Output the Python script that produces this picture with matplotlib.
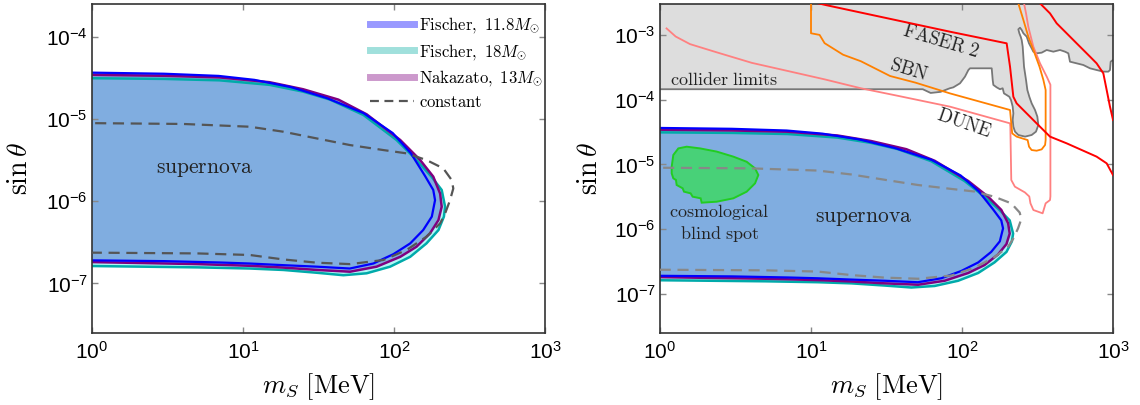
import matplotlib
matplotlib.use('Agg')
import matplotlib.pyplot as plt
from matplotlib.lines import Line2D
from matplotlib.ticker import LogLocator, NullLocator

plt.rcParams['font.family'] = ['Liberation Sans', 'DejaVu Sans']
plt.rcParams['mathtext.fontset'] = 'cm'

# ---------------- data (m_S [MeV], sin theta) ----------------
# Fischer 11.8 Msun supernova contour
f118_x = [0.8, 1, 3, 6.9, 11.9, 20.8, 36, 62.8, 98, 129, 161, 182, 187, 178, 156, 128, 99, 73, 51, 31, 18.5, 11, 7, 3,
          1, 0.8]
f118_y = [3.67e-5, 3.66e-5, 3.55e-5, 3.34e-5, 2.99e-5, 2.44e-5, 1.79e-5, 1.18e-5, 6.75e-6, 3.86e-6, 2.01e-6, 1.37e-6,
          1.03e-6, 6.5e-7, 4.46e-7, 3.07e-7, 2.27e-7, 1.75e-7, 1.52e-7, 1.6e-7, 1.67e-7, 1.75e-7, 1.8e-7, 1.87e-7,
          1.91e-7, 1.91e-7]
# Fischer 18 Msun
f18_x = [0.8, 1, 3, 7, 15, 25, 37.7, 62.7, 104, 141, 177, 207, 218, 214, 197, 164, 128, 94.2, 65.9, 46.2, 30.8, 18.5,
         11.1, 5, 1, 0.8]
f18_y = [3.13e-5, 3.13e-5, 3.07e-5, 2.95e-5, 2.6e-5, 2.15e-5, 1.72e-5, 1.12e-5, 5.55e-6, 3.17e-6, 1.99e-6, 1.37e-6,
         8.57e-7, 6.49e-7, 4.46e-7, 3.07e-7, 2.11e-7, 1.60e-7, 1.33e-7, 1.26e-7, 1.35e-7, 1.46e-7, 1.52e-7, 1.57e-7,
         1.63e-7, 1.63e-7]
# Nakazato 13 Msun
nak_x = [0.8, 1, 3, 7, 15, 25, 42.8, 65.9, 110, 149, 182, 202, 207, 197, 173, 141, 110, 76.7, 51.2, 30.8, 18.5, 11.1,
         5, 1, 0.8]
nak_y = [3.44e-5, 3.44e-5, 3.35e-5, 3.2e-5, 2.8e-5, 2.3e-5, 1.72e-5, 1.14e-5, 5.55e-6, 3.17e-6, 1.99e-6, 1.24e-6,
         8.57e-7, 5.90e-7, 4.06e-7, 2.80e-7, 2.11e-7, 1.60e-7, 1.39e-7, 1.46e-7, 1.56e-7, 1.64e-7, 1.72e-7, 1.82e-7,
         1.82e-7]
# constant (dashed)
const_x = [0.8, 1, 4, 11.1, 18.5, 30.8, 51, 85, 121, 164, 212, 241, 247, 235, 218, 202, 164, 121, 85, 51.2, 30.8,
           18.5, 11.1, 5, 1, 0.8]
const_y = [8.9e-6, 8.9e-6, 8.7e-6, 8.05e-6, 7.0e-6, 5.8e-6, 4.82e-6, 4.19e-6, 3.82e-6, 3.17e-6, 2.51e-6, 1.81e-6,
           1.43e-6, 1.03e-6, 7.1e-7, 5.38e-7, 3.7e-7, 2.55e-7, 1.93e-7, 1.72e-7, 1.79e-7, 1.96e-7, 2.22e-7, 2.32e-7,
           2.37e-7, 2.37e-7]

# collider limits (lower boundary of grey region)
coll_x = [0.8, 55, 62, 72, 83, 87.6, 97, 104.7, 110.2, 113, 157.3, 159.7, 161.3, 169.7, 178.5, 185.9, 189.7, 197.6,
          205.8, 211.1, 216.6, 218.8, 216.6, 218.8, 224.4, 236.1, 261.5, 289.3, 309, 320.3, 315.5, 304.4, 289.3,
          279.2, 270.9, 265.5, 257.5, 254.9, 252.3, 248.5, 244.7, 239.8, 236.1, 242.2, 248.5, 254.9, 268.2, 277.8,
          289.3, 296.8, 312.3, 337.1, 363.8, 402.7, 445.6, 481, 506.1, 519, 574.6, 636.2, 704.2, 779.4, 862.9,
          931.1, 955, 965, 1000, 1100]
coll_y = [1.45e-4, 1.45e-4, 1.27e-4, 1.32e-4, 1.50e-4, 1.55e-4, 1.79e-4, 2.27e-4, 2.87e-4, 3.05e-4, 3.05e-4, 2.01e-4,
          1.69e-4, 1.55e-4, 1.45e-4, 1.50e-4, 1.25e-4, 1.18e-4, 1.11e-4, 9.88e-5, 7.8e-5, 6.15e-5, 4.86e-5, 3.83e-5,
          3.21e-5, 2.85e-5, 2.69e-5, 2.85e-5, 3.21e-5, 4.06e-5, 5.47e-5, 6.93e-5, 8.78e-5, 1.11e-4, 1.41e-4,
          2.01e-4, 3.23e-4, 4.62e-4, 6.58e-4, 8.34e-4, 9.39e-4, 1.06e-3, 1.22e-3, 1.29e-3, 1.19e-3, 1.06e-3,
          9.39e-4, 7.41e-4, 6.21e-4, 5.51e-4, 5.2e-4, 5.32e-4, 5.85e-4, 5.51e-4, 5.85e-4, 5.51e-4, 5.2e-4, 3.86e-4,
          3.64e-4, 3.43e-4, 3.05e-4, 2.87e-4, 2.71e-4, 2.71e-4, 2.87e-4, 3.86e-4, 4.1e-4, 4.1e-4]
COLL_TOP = 1.0

# FASER 2 (red)
faser_x = [11, 12.7, 83.3, 197.6, 208, 218.8, 230, 268, 312, 382.6, 493, 779, 908, 1000]
faser_y = [3.1e-3, 2.87e-3, 1.12e-3, 7.41e-4, 3.23e-4, 1.11e-4, 8.78e-5, 6.15e-5, 4.31e-5, 2.69e-5, 2.12e-5, 1.32e-5,
           1.04e-5, 6.87e-6]
# second red curve (far right)
red2_x = [310, 328.6, 382.6, 423.6, 493, 574.6, 704, 779, 863, 908, 955, 995, 1000]
red2_y = [3.5e-3, 3.07e-3, 2.15e-3, 1.51e-3, 1.06e-3, 7.41e-4, 4.62e-4, 3.64e-4, 2.55e-4, 1.41e-4, 7.8e-5, 5.16e-5,
          4.86e-5]
# SBN (orange)
sbn_x = [10, 10, 11.4, 12.3, 16.3, 21.4, 33.4, 49.3, 83.3, 208, 215, 230, 272, 278, 289, 312, 337, 355, 358, 358, 346,
         326, 297, 275, 255, 236]
sbn_y = [4e-3, 1.06e-3, 1.0e-3, 7.46e-4, 4.95e-4, 3.92e-4, 2.32e-4, 1.83e-4, 1.25e-4, 6.93e-5, 3.02e-5, 2.69e-5,
         2.38e-5, 1.88e-5, 1.67e-5, 1.63e-5, 1.71e-5, 2.0e-5, 2.38e-5, 1.41e-4, 2.01e-4, 3.23e-4, 5.85e-4, 9.39e-4,
         1.7e-3, 3.07e-3]
# DUNE (pink)
dune_x = [1.105, 1.27, 1.58, 2.34, 4.06, 7.08, 12.3, 21.4, 37.4, 83.3, 208, 209, 212, 224, 261, 279, 284, 297, 342,
          358, 382.6, 385, 385, 364, 328.6, 296.8, 275, 265.5, 257.5]
dune_y = [1.26e-3, 9.44e-4, 7.21e-4, 5.44e-4, 3.70e-4, 2.76e-4, 2.06e-4, 1.50e-4, 1.15e-4, 7.8e-5, 4.31e-5, 3.83e-5,
          5.75e-6, 4.54e-6, 3.7e-6, 3.2e-6, 2.51e-6, 1.98e-6, 1.76e-6, 2.51e-6, 2.82e-6, 3.2e-6, 1.7e-4, 2.27e-4,
          3.64e-4, 6.58e-4, 1.33e-3, 2.15e-3, 3.07e-3]
# cosmological blind spot (green)
blind_x = [1.195, 1.225, 1.323, 1.502, 1.841, 2.373, 3.06, 3.75, 4.26, 4.48, 4.26, 3.75, 3.06, 2.373, 1.888, 1.859,
           1.645, 1.595, 1.442, 1.413, 1.289, 1.276, 1.225, 1.195]
blind_y = [9.24e-6, 1.40e-5, 1.77e-5, 1.88e-5, 1.77e-5, 1.58e-5, 1.32e-5, 1.10e-5, 8.71e-6, 6.87e-6, 5.11e-6,
           3.80e-6, 3.00e-6, 2.66e-6, 2.57e-6, 3.0e-6, 3.18e-6, 3.58e-6, 3.80e-6, 4.28e-6, 4.82e-6, 5.75e-6,
           6.11e-6, 7.29e-6]

legend_labels = [r'$\mathrm{Fischer,}\ 11.8M_{\odot}$', r'$\mathrm{Fischer,}\ 18M_{\odot}$',
                 r'$\mathrm{Nakazato,}\ 13M_{\odot}$', r'$\mathrm{constant}$']

# ---------------- figure ----------------
W, H = 1140, 405
fig = plt.figure(figsize=(W / 100, H / 100), dpi=100)
axL = fig.add_axes([92 / W, 72 / H, 453 / W, 329 / H])
axR = fig.add_axes([660 / W, 72 / H, 453 / W, 329 / H])

SN_FILL = '#80ade0'
CYAN_FILL = '#b0f6f6'


def style(ax, ylim):
    ax.set_xscale('log')
    ax.set_yscale('log')
    ax.set_xlim(1, 1000)
    ax.set_ylim(*ylim)
    ax.xaxis.set_major_locator(LogLocator(base=10, numticks=10))
    ax.yaxis.set_major_locator(LogLocator(base=10, numticks=10))
    ax.xaxis.set_minor_locator(NullLocator())
    ax.yaxis.set_minor_locator(NullLocator())
    ax.tick_params(which='major', direction='in', top=True, right=True, length=4, width=1,
                   color='#888888', labelsize=15)
    ax.tick_params(axis='x', pad=6)
    ax.tick_params(axis='y', pad=3)
    for s in ax.spines.values():
        s.set_color('#333333')
        s.set_linewidth(1.2)
    ax.set_xlabel(r'$m_S\ [\mathrm{MeV}]$', fontsize=19)
    ax.set_ylabel(r'$\sin\theta$', fontsize=20)


def supernova(ax, dash_color):
    ax.fill(f18_x, f18_y, color=CYAN_FILL, lw=0, zorder=1)
    ax.fill(nak_x, nak_y, color=SN_FILL, lw=0, zorder=1.1)
    ax.fill(f118_x, f118_y, color=SN_FILL, lw=0, zorder=1.2)
    ax.plot(f18_x, f18_y, color='#00aaaa', lw=1.8, zorder=2)
    ax.plot(nak_x, nak_y, color='#800080', lw=1.8, zorder=2.1)
    ax.plot(f118_x, f118_y, color='#0000ff', lw=1.6, zorder=2.2)
    ax.plot(const_x, const_y, color=dash_color, lw=1.6, ls=(0, (5, 3)), zorder=4)


style(axL, (2.5e-8, 2.5e-4))
style(axR, (2.5e-8, 3e-3))

supernova(axL, '#555555')
axL.text(5.6, 2.5e-6, r'$\mathrm{supernova}$', fontsize=15.5, ha='center', va='center', color='#222222')

handles = [Line2D([], [], color='#9999ff', lw=5), Line2D([], [], color='#a0e0dc', lw=5),
           Line2D([], [], color='#cc99cc', lw=5), Line2D([], [], color='#555555', lw=1.6, ls=(0, (4, 2.5)))]
axL.legend(handles, legend_labels, loc='upper left', bbox_to_anchor=(0.6, 0.985), frameon=False,
           fontsize=12, handlelength=2.6, handletextpad=0.33, labelspacing=0.4, borderaxespad=0)

# right panel
axR.fill(coll_x + [coll_x[-1], coll_x[0]], coll_y + [COLL_TOP, COLL_TOP], color='#dddddd', lw=0, zorder=0.5)
axR.plot(coll_x, coll_y, color='#777777', lw=1.3, zorder=0.6)
supernova(axR, '#888888')
axR.fill(blind_x, blind_y, facecolor='#48d178', edgecolor='#22cc22', lw=1.4, zorder=3)
axR.plot(dune_x, dune_y, color='#ff8080', lw=1.3, zorder=5)
axR.plot(sbn_x, sbn_y, color='#ff8000', lw=1.3, zorder=5)
axR.plot(faser_x, faser_y, color='#ff0000', lw=1.4, zorder=5)
axR.plot(red2_x, red2_y, color='#ff0000', lw=1.4, zorder=5)

axR.text(22.4, 1.51e-6, r'$\mathrm{supernova}$', fontsize=15.5, ha='center', va='center', color='#222222')
axR.text(2.47, 1.24e-6, r'$\mathrm{cosmological}$' + '\n' + r'$\mathrm{blind\ spot}$', fontsize=13,
         ha='center', va='center', color='#222222', linespacing=1.1)
axR.text(2.64, 2.01e-4, r'$\mathrm{collider\ limits}$', fontsize=13, ha='center', va='center', color='#222222')
axR.text(72.6, 7.9e-4, r'$\mathrm{FASER\ 2}$', fontsize=13.5, ha='center', va='center', rotation=-16.5,
         color='#222222')
axR.text(44.6, 2.92e-4, r'$\mathrm{SBN}$', fontsize=13.5, ha='center', va='center', rotation=-17, color='#222222')
axR.text(102.5, 4.25e-5, r'$\mathrm{DUNE}$', fontsize=13.5, ha='center', va='center', rotation=-19,
         color='#222222')

for ax, xf in ((axL, -0.158), (axR, -0.1545)):
    ax.xaxis.set_label_coords(0.5, -0.164)
    ax.xaxis.label.set_va('center')
    ax.yaxis.set_label_coords(xf, 0.5)
    ax.yaxis.label.set_va('center')

fig.savefig('out.png', dpi=100)
